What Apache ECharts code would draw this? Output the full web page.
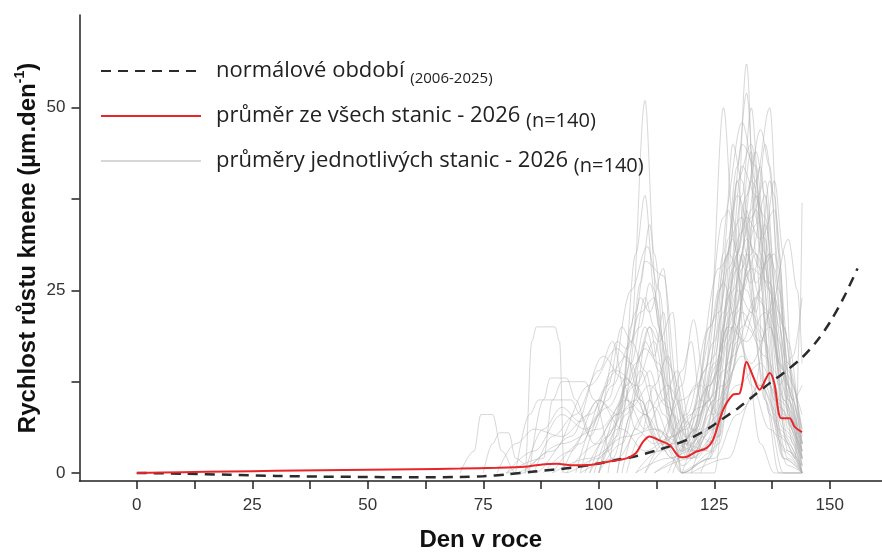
<!DOCTYPE html>
<html>
<head>
<meta charset="utf-8">
<script src="https://cdn.jsdelivr.net/npm/echarts@6/dist/echarts.min.js"></script>
<style>
html,body{margin:0;padding:0;background:#fff;}
#chart{width:882px;height:552px;}
</style>
</head>
<body>
<div id="chart"></div>
<script>
// ---------- DATA ----------
const xTickValues = [0, 12.5, 25, 37.5, 50, 62.5, 75, 87.5, 100, 112.5, 125, 137.5, 150];
const xLabelValues = [0, 25, 50, 75, 100, 125, 150];
const yTickValues = [0, 12.5, 25, 37.5, 50];
const yLabelValues = [0, 25, 50];

const normalName = 'normálové období';
const meanName = 'průměr ze všech stanic - 2026';
const stationName = 'průměry jednotlivých stanic - 2026';

// normal period 2006-2025 (dashed)
const normalDays   = [0, 10, 20, 30, 40, 50, 60, 70, 75, 80, 86, 90, 94, 100, 104, 108, 112, 116, 120, 124, 127, 130, 133, 137, 140, 144, 147, 150, 153, 156];
const normalValues = [0, -0.1, -0.25, -0.4, -0.5, -0.55, -0.6, -0.55, -0.45, -0.2, 0.2, 0.45, 0.7, 1.3, 1.8, 2.3, 3.0, 3.8, 4.8, 6.2, 7.5, 8.8, 10.3, 12.3, 13.7, 15.8, 17.9, 20.6, 24.0, 28.0];

// mean of all stations 2026 (red)
const meanDays   = [0, 10, 20, 30, 40, 50, 60, 70, 78, 84, 87, 91, 94, 98, 102, 106, 108, 109.6, 111, 113, 115.4, 117.5, 118.6, 121, 123.3, 124.7, 126.9, 129, 130.5, 132, 133.4, 134.8, 137, 138, 139.5, 141.3, 142.4, 144];
const meanValues = [0, 0.1, 0.2, 0.3, 0.38, 0.45, 0.52, 0.6, 0.7, 0.85, 1.1, 1.25, 1.05, 1.1, 1.55, 2.0, 2.7, 4.3, 5.0, 4.5, 3.8, 2.2, 2.15, 2.9, 3.4, 4.5, 8.6, 10.7, 10.9, 15.2, 13.2, 11.4, 13.7, 12.3, 7.5, 7.5, 6.3, 5.6];

// individual stations 2026 (grey) — [day, value]
const st01 = [[100,0],[104,5],[107,20],[110,51],[112,30],[115,10],[118,0],[125,0],[128,15],[132,30],[136,10],[140,0],[144,0]];
const st02 = [[96,0],[102,10],[107,25],[110.5,31],[113,25],[116,8],[118,0],[124,2],[127,20],[130,40],[133,45],[136,30],[139,5],[144,0]];
const st03 = [[98,0],[104,8],[108,22],[110,29],[114,27],[117,12],[120,2],[125,5],[128,25],[131,42],[134,38],[137,15],[140,3],[144,0]];
const st04 = [[84,0],[92,4],[100,6],[106,10],[110,8],[116,2],[118,0],[125,3],[129,20],[132,56],[134,30],[136,10],[139,0],[144,0]];
const st05 = [[108,0],[115,2],[120,3],[124,20],[127,50],[129,35],[132,15],[135,4],[138,0],[144,0]];
const st06 = [[112,0],[120,2],[126,5],[130,20],[134,40],[137,50],[139,30],[141,8],[144,0]];
const st07 = [[118,0],[125,2],[130,8],[135,12],[140,5],[142.5,2],[143.5,20],[144,37]];
const st08 = [[120,0],[128,2],[133,10],[137,22],[141,32],[143,25],[144,15]];
const st09 = [[80,0],[84,0],[85.5,18],[86.5,20],[90.5,20],[91.5,18],[92.5,0],[100,2],[108,12],[112,18],[116,5],[122,8],[128,30],[132,25],[136,12],[140,2],[144,0]];
const st10 = [[80,0],[88,2],[90,10],[92,12.5],[97,12.5],[99,10],[103,2],[108,15],[111,20],[114,10],[118,3],[126,22],[130,38],[134,30],[138,10],[144,2]];
const st11 = [[70,0],[73,3],[74.5,8],[77,8],[79,3],[82,0],[90,3],[98,12],[104,17],[107,15],[110,8],[114,3],[120,8],[126,28],[131,35],[135,20],[139,6],[144,0]];
const st12 = [[75,0],[77,4],[78.5,5.5],[80.5,5.5],[82,2],[86,0],[94,5],[101,16],[105,13],[108,6],[112,4],[118,10],[122,12],[126,8],[130,30],[133,40],[136,35],[139,15],[144,3]];
const st13 = [[82,0],[85,8],[87,10],[94,10],[96,8],[99,4],[104,8],[109,22],[112,24],[115,15],[119,5],[124,10],[128,30],[131,45],[134,42],[137,25],[140,8],[144,1]];
const st14 = [[85,0],[88,10],[89.5,13],[93,13],[95,10],[98,5],[103,12],[107,18],[110,14],[113,6],[117,2],[122,10],[127,35],[131,48],[134,40],[137,20],[141,5],[144,0]];
const st15 = [[92,0],[98,6],[103,14],[106,16],[109,10],[113,3],[118,12],[120.5,21],[123,12],[126,5],[129,25],[133,35],[136,40],[139,20],[142,6],[144,2]];
const st16 = [[95,0],[100,8],[104,18],[106,17],[109,20],[111,26],[114,18],[117,6],[121,3],[124,8],[128,20],[132,32],[135,28],[138,30],[141,15],[144,5]];
const st17 = [[100,0],[105,4],[109,12],[111,14],[114,8],[118,2],[123,5],[127,18],[130,25],[133,22],[137,30],[140,20],[143,8],[144,6]];
const st18 = [[88,0],[94,3],[100,10],[104,8],[108,10],[112,5],[116,2],[121,6],[125,15],[129,22],[133,28],[137,26],[141,12],[144,4]];
const st19 = [[97,0],[102,5],[106,12],[110,17],[113,15],[116,6],[120,2],[125,10],[129,28],[132,35],[135,32],[138,36],[141,18],[144,2]];
const st20 = [[105,0],[108,6],[111,10],[114,4],[118,0],[124,2],[128,12],[131,20],[134,24],[137,22],[140,10],[144,3]];
const st21 = [[90,0],[98,2],[106,5],[112,6],[118,3],[124,6],[130,12],[135,15],[139,10],[144,4]];
const st22 = [[93,0],[100,4],[107,9],[111,12],[115,9],[119,4],[124,12],[128,20],[132,18],[136,22],[140,14],[144,8]];
const st23 = [[100,0],[105,10],[108,30],[110,38],[112,25],[115,8],[118,1],[125,6],[129,18],[133,30],[136,38],[138,28],[141,8],[144,1]];
const st24 = [[102,0],[106,12],[109,24],[111,22],[114,28],[116,14],[119,3],[126,15],[130,42],[132,52],[134,35],[137,12],[140,2],[144,0]];
const st25 = [[110,0],[116,4],[121,12],[124,15],[127,30],[129,45],[131,40],[134,20],[137,8],[141,1],[144,0]];
const st26 = [[112,0],[118,2],[124,10],[128,22],[132,38],[135,47],[137,42],[139,25],[142,8],[144,3]];
const st27 = [[115,0],[120,5],[125,18],[128,36],[130,30],[133,44],[135,30],[138,12],[141,4],[144,0]];
const st28 = [[80,0],[86,3],[92,8],[97,6],[102,9],[106,13],[109,10],[113,4],[119,6],[123,14],[126,25],[129,32],[132,20],[136,16],[140,6],[144,2]];
const st29 = [[96,0],[104,2],[110,8],[115,12],[119,7],[123,3],[127,10],[131,18],[135,25],[138,40],[140,30],[142,12],[144,4]];
const st30 = [[86,0],[90,5],[95,8],[100,14],[103,18],[106,10],[110,6],[114,10],[117,14],[120,6],[125,4],[129,16],[133,22],[136,18],[139,9],[144,3]];
const st31 = [[104,0],[107,8],[109,16],[111,20],[113,18],[116,22],[118,8],[121,2],[127,8],[131,28],[134,36],[136,32],[139,14],[144,1]];
const st32 = [[118,0],[123,6],[127,14],[131,25],[134,30],[137,25],[140,14],[142,10],[144,12]];
const st33 = [[99,0],[103,6],[107,15],[110,24],[112,20],[115,12],[118,4],[124,3],[128,14],[131,22],[135,18],[138,24],[141,14],[144,6]];
const st34 = [[120,0],[126,8],[130,18],[132,36],[134,26],[137,30],[139,18],[142,4],[144,0]];
const st35 = [[108,0],[113,3],[119,8],[124,20],[127,26],[130,20],[133,12],[137,6],[141,3],[144,1]];
const st36 = [[104,0],[108,10],[110,18],[112,16],[114,22],[116,10],[119,2],[124,6],[128,24],[131,38],[133,50],[135,36],[138,14],[141,3],[144,0]];
const st37 = [[116,0],[121,6],[125,16],[128,28],[131,33],[134,44],[136,38],[138,20],[141,6],[144,0]];
const st38 = [[90,0],[96,4],[102,12],[105,20],[107,18],[109,26],[111,34],[113,20],[116,8],[120,4],[126,14],[130,30],[133,26],[136,34],[139,22],[142,10],[144,4]];
const st39 = [[78,0],[82,4],[86,6],[92,5],[98,8],[104,14],[108,12],[112,6],[118,4],[124,12],[129,20],[133,15],[137,20],[141,10],[144,4]];
const st40 = [[110,0],[114,4],[118,14],[120,18],[122,10],[125,8],[128,18],[131,30],[134,22],[137,40],[139,28],[141,10],[144,2]];
const st41 = [[98,0],[102,3],[106,8],[109,14],[112,9],[116,4],[121,3],[126,10],[130,22],[134,34],[136,45],[138,38],[140,20],[143,6],[144,4]];
const st42 = [[122,0],[126,4],[129,14],[132,28],[134,38],[136,28],[139,12],[142,16],[144,24]];
const st43 = [[84,0],[88,6],[92,9],[96,7],[100,10],[105,6],[110,3],[116,5],[122,9],[127,12],[131,16],[135,12],[139,8],[144,3]];
const st44 = [[106,0],[109,5],[112,12],[115,16],[117,10],[120,3],[125,10],[128,32],[130,40],[132,30],[135,24],[138,8],[141,2],[144,0]];
const st45 = [[100,0],[104,6],[107,12],[110,20],[113,14],[117,4],[122,6],[127,22],[130,28],[133,36],[135,42],[137,26],[140,10],[144,2]];

const stations = [st01,st02,st03,st04,st05,st06,st07,st08,st09,st10,st11,st12,st13,st14,st15,st16,st17,st18,st19,st20,st21,st22,st23,st24,st25,st26,st27,st28,st29,st30,st31,st32,st33,st34,st35,st36,st37,st38,st39,st40,st41,st42,st43,st44,st45];

// ---------- CHART ----------
const chart = echarts.init(document.getElementById('chart'), null, {renderer: 'canvas'});

const zip = (a, b) => a.map((v, i) => [v, b[i]]);

const series = [];
stations.forEach(st => {
  series.push({
    name: stationName,
    type: 'line',
    data: st,
    symbol: 'none',
    smooth: 0.35,
    smoothMonotone: 'x',
    lineStyle: {color: 'rgba(175,175,175,0.5)', width: 1},
    itemStyle: {color: '#c8c8c8'},
    emphasis: {disabled: true},
    z: 1
  });
});
series.push({
  name: normalName,
  type: 'line',
  data: zip(normalDays, normalValues),
  symbol: 'none',
  smooth: 0.3,
  lineStyle: {color: '#2b2b2b', width: 2.5, type: [10, 7]},
  itemStyle: {color: '#2b2b2b'},
  z: 3
});
series.push({
  name: meanName,
  type: 'line',
  data: zip(meanDays, meanValues),
  symbol: 'none',
  smooth: 0.3,
  lineStyle: {color: '#e8262a', width: 2},
  itemStyle: {color: '#e8262a'},
  z: 4
});

const legendRich = {
  m: {fontFamily: 'Open Sans', fontSize: 22, color: '#222', lineHeight: 30, verticalAlign: 'middle'},
  s: {fontFamily: 'Open Sans', fontSize: 15, color: '#222', lineHeight: 15, verticalAlign: 'bottom'},
  n: {fontFamily: 'Open Sans', fontSize: 20, color: '#222', lineHeight: 21, verticalAlign: 'bottom'}
};

const option = {
  animation: false,
  backgroundColor: '#ffffff',
  grid: {left: 79.5, right: 0, top: 15, bottom: 71, containLabel: false, outerBoundsMode: 'none'},
  legend: {
    orient: 'vertical',
    left: 95,
    top: 55,
    itemWidth: 100,
    itemHeight: 14,
    itemGap: 19,
    data: [normalName, meanName, stationName],
    itemStyle: {opacity: 0},
    textStyle: {fontFamily: 'Open Sans', fontSize: 22, color: '#222', padding: [0, 0, 0, 10], rich: legendRich},
    formatter: function (name) {
      if (name === normalName) return '{m|' + name + '} {s|(2006-2025)}';
      return '{m|' + name + '} {n|(n=140)}';
    },
    selectedMode: false
  },
  xAxis: {
    type: 'value',
    min: -12.4,
    max: 161.3,
    name: 'Den v roce',
    nameLocation: 'middle',
    nameGap: 47,
    nameMoveOverlap: false,
    nameTextStyle: {fontFamily: 'Liberation Sans', fontWeight: 'bold', fontSize: 24, color: '#111'},
    splitLine: {show: false},
    axisLine: {onZero: false, lineStyle: {color: '#222', width: 1.5}},
    axisTick: {show: true, inside: false, length: 8, lineStyle: {color: '#222', width: 1.5}, customValues: xTickValues},
    axisLabel: {fontFamily: 'Liberation Sans', fontSize: 17, color: '#333', margin: 16, customValues: xLabelValues}
  },
  yAxis: {
    type: 'value',
    min: -1.1,
    max: 62.7,
    name: '{a|Rychlost růstu kmene (µm.den}{b|-1}{a|)}',
    nameLocation: 'middle',
    nameGap: 36,
    nameMoveOverlap: false,
    nameRotate: 90,
    nameTextStyle: {
      rich: {
        a: {fontFamily: 'Liberation Sans', fontWeight: 'bold', fontSize: 24, color: '#111', lineHeight: 30},
        b: {fontFamily: 'Liberation Sans', fontWeight: 'bold', fontSize: 14, color: '#111', verticalAlign: 'top', lineHeight: 30}
      }
    },
    splitLine: {show: false},
    axisLine: {show: true, onZero: false, lineStyle: {color: '#222', width: 1.5}},
    axisTick: {show: true, inside: false, length: 8, lineStyle: {color: '#222', width: 1.5}, customValues: yTickValues},
    axisLabel: {fontFamily: 'Liberation Sans', fontSize: 17, color: '#333', margin: 14, customValues: yLabelValues}
  },
  series: series
};

chart.setOption(option);
</script>
</body>
</html>
